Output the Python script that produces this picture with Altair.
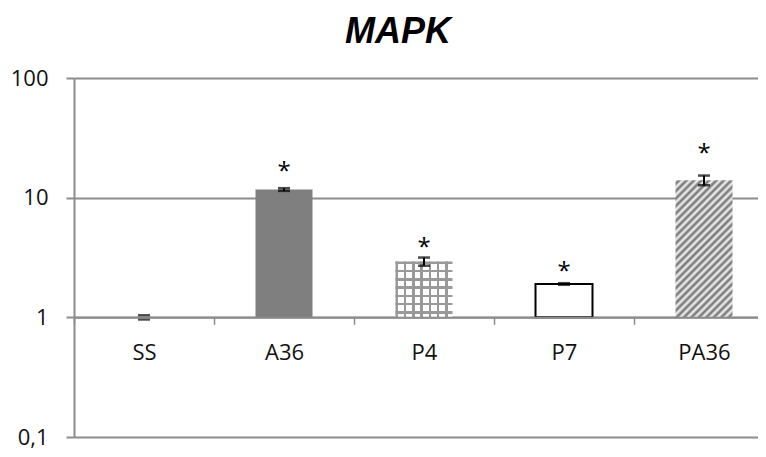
import altair as alt
import pandas as pd

# ---- data ----
categories = ["SS", "A36", "P4", "P7", "PA36"]
values = [1.0, 11.7, 2.93, 1.9, 14.0]
errors = [0.04, 0.3, 0.23, 0.03, 1.3]
stars = ["", "*", "*", "*", "*"]
star_pos = [None, 18.7, 4.36, 2.75, 26.6]
y_ticks = [0.1, 1, 10, 100]

df = pd.DataFrame({"cat": categories, "value": values, "err": errors,
                   "star": stars, "star_y": star_pos})
df["lo"] = df["value"] - df["err"]
df["hi"] = df["value"] + df["err"]
df["base"] = 1.0

GRAY = "#8c8c8c"
W, H = 684, 359
LABEL_FONT = "Open Sans"


def stripes(n, frac, line, bg):
    """Hard-edged stripe stops: n periods over [0,1], line occupies frac of each."""
    stops = []
    k = 0
    while k / n < 1:
        a = k / n
        b = min((k + frac) / n, 1.0)
        c = min((k + 1) / n, 1.0)
        stops += [{"offset": a, "color": line}, {"offset": b, "color": line},
                  {"offset": b, "color": bg}, {"offset": c, "color": bg}]
        k += 1
    return stops


def wave(n, dark, light):
    stops = []
    for k in range(n):
        stops.append({"offset": k / n, "color": light})
        stops.append({"offset": (k + 0.5) / n, "color": dark})
    stops.append({"offset": 1.0, "color": light})
    return stops


grid_h = {"gradient": "linear", "x1": 0, "y1": 0, "x2": 0, "y2": 1,
          "stops": stripes(6.73, 0.3, "#999999", "#ffffff")}
grid_v = {"gradient": "linear", "x1": 0, "y1": 0, "x2": 1, "y2": 0,
          "stops": stripes(6.87, 0.3, "#999999", "rgba(255,255,255,0)")}
r = 57 / 137.2
y2g = (1 + r) / (1 + r * r)
diag = {"gradient": "linear", "x1": 0, "y1": 0, "x2": r * y2g, "y2": y2g,
        "stops": wave(26, "#6e6e6e", "#f6f6f6")}

yscale = alt.Scale(type="log", domain=[0.1, 100], nice=False)
yaxis = alt.Axis(values=y_ticks, title=None, grid=True, gridColor=GRAY, gridWidth=2,
                 domainColor=GRAY, domainWidth=2, tickColor=GRAY, tickWidth=2, tickSize=8,
                 labelPadding=18, labelFont=LABEL_FONT, labelFontSize=22, labelColor="#111111",
                 labelExpr="replace(format(datum.value, '~g'), '.', ',')")


def Y(field):
    return alt.Y(f"{field}:Q", scale=yscale, axis=yaxis, title=None)


xaxis = alt.Axis(title=None, labelAngle=0, tickBand="extent", offset=-H / 3,
                 domainColor=GRAY, domainWidth=2, tickColor=GRAY, tickWidth=1.5, tickSize=7,
                 labelPadding=18, labelFont=LABEL_FONT, labelFontSize=22, labelColor="#111111",
                 grid=False, zindex=1)

base = alt.Chart(df).encode(
    x=alt.X("cat:N", sort=categories,
            scale=alt.Scale(domain=categories, range=[0, 700], paddingInner=0, paddingOuter=0),
            axis=xaxis)
)

bar_a36 = base.mark_bar(width=57, fill="#7f7f7f").encode(y=Y("value"), y2="base") \
    .transform_filter("datum.cat == 'A36'")
bar_p4a = base.mark_bar(width=57, fill=grid_h).encode(y=Y("value"), y2="base") \
    .transform_filter("datum.cat == 'P4'")
bar_p4b = base.mark_bar(width=57, fill=grid_v).encode(y=Y("value"), y2="base") \
    .transform_filter("datum.cat == 'P4'")
bar_p7 = base.mark_bar(width=57, fill="white", stroke="black", strokeWidth=2) \
    .encode(y=Y("value"), y2="base").transform_filter("datum.cat == 'P7'")
bar_pa = base.mark_bar(width=57, fill=diag).encode(y=Y("value"), y2="base") \
    .transform_filter("datum.cat == 'PA36'")

err_rule = base.mark_rule(color="black", strokeWidth=2).encode(y=Y("lo"), y2="hi") \
    .transform_filter("datum.cat != 'SS'")
cap_lo = base.mark_tick(color="black", thickness=2.5, size=12).encode(y=Y("lo"))
cap_hi = base.mark_tick(color="black", thickness=2.5, size=12).encode(y=Y("hi"))

star_txt = base.mark_text(font=LABEL_FONT, fontSize=24, color="black",
                          baseline="alphabetic", dy=14).encode(
    y=Y("star_y"), text="star:N").transform_filter("datum.star_y != null")

chart = alt.layer(bar_a36, bar_p4a, bar_p4b, bar_p7, bar_pa, err_rule, cap_lo, cap_hi, star_txt) \
    .properties(
        width=W, height=H,
        title=alt.TitleParams("MAPK", font="Liberation Sans", fontSize=36, fontWeight="bold",
                              fontStyle="italic", color="black", anchor="middle", dx=-18,
                              dy=12, frame="group", baseline="alphabetic", offset=0),
        autosize=alt.AutoSizeParams(type="none"),
        padding={"left": 66, "top": 70, "right": 0, "bottom": 12},
    ).configure_view(stroke=None)

chart.save("out.html", embed_options={"renderer": "svg", "actions": False})
